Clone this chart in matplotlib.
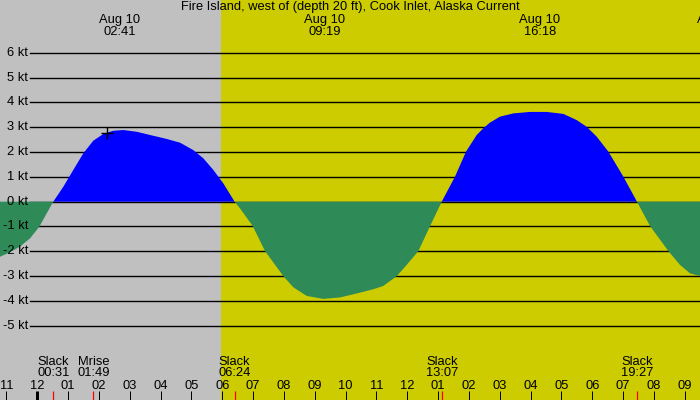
import matplotlib.pyplot as plt
import matplotlib.transforms as mtransforms

plt.rcParams['font.family'] = ['Liberation Sans', 'DejaVu Sans']

title = "Fire Island, west of (depth 20 ft), Cook Inlet, Alaska Current"

# hours after midnight Aug 10, current speed in knots (+ flood, - ebb)
hours = [-1.210, -0.886, -0.561, -0.237, 0.065, 0.305, 0.517,
         0.843, 1.168, 1.492, 1.816, 2.141, 2.465, 2.789, 3.224, 3.656,
         4.197, 4.629, 5.060, 5.384, 5.709, 6.033, 6.400,
         6.574, 6.986, 7.385, 7.979, 8.303, 8.738, 9.277, 9.819, 10.36,
         10.90, 11.22, 11.66, 11.98, 12.36, 12.74, 13.117,
         13.548, 13.905, 14.252, 14.466, 14.683, 15.008, 15.439, 15.981,
         16.523, 17.061, 17.496, 17.82, 18.145, 18.521, 19.008, 19.450,
         19.873, 20.467, 20.846, 21.17, 21.494]
speed = [-2.22, -2.04, -1.81, -1.48, -1.01, -0.47, 0.0,
         0.60, 1.28, 1.95, 2.46, 2.73, 2.86, 2.89, 2.82, 2.69,
         2.53, 2.38, 2.08, 1.75, 1.28, 0.74, 0.0,
         -0.27, -0.98, -1.99, -3.00, -3.45, -3.80, -3.92, -3.86, -3.70,
         -3.53, -3.40, -3.00, -2.55, -1.99, -0.98, 0.0,
         1.01, 2.02, 2.69, 2.96, 3.19, 3.43, 3.56, 3.62,
         3.62, 3.54, 3.29, 3.02, 2.62, 2.02, 1.01, 0.0,
         -0.98, -1.99, -2.55, -2.89, -3.00]

# slack / moon events shown under the chart
event_hours = [0.517, 1.817, 6.400, 13.117, 19.450]
event_names = ["Slack", "Mrise", "Slack", "Slack", "Slack"]
event_times = ["00:31", "01:49", "06:24", "13:07", "19:27"]

# max current times along the top
peak_hours = [2.683, 9.317, 16.300, 22.067]
peak_times = ["02:41", "09:19", "16:18", "22:04"]

sunrise = 5.958
marker_hour, marker_speed = 2.271, 2.78

kt_levels = [-5, -4, -3, -2, -1, 0, 1, 2, 3, 4, 5, 6]
hour_ticks = list(range(-1, 22))

t0, t1 = -1.210, 21.494
fs = 9.3

fig = plt.figure(figsize=(7, 4), dpi=100)
ax = fig.add_axes([0, 0, 1, 1])
ax.set_xlim(t0, t1)
ax.set_ylim(-7.996, 8.133)
ax.axis('off')

ax.axvspan(t0, sunrise, color='#c0c0c0', zorder=0, lw=0)
ax.axvspan(sunrise, t1, color='#cccc00', zorder=0, lw=0)

ytf = mtransforms.blended_transform_factory(ax.transAxes, ax.transData)
for v in kt_levels:
    ax.axhline(v, xmin=30 / 700, xmax=1, color='black', lw=1.0, zorder=1)
    ax.text(28 / 700, v, f"{v} kt", transform=ytf, ha='right', va='center',
            fontsize=fs, zorder=3)

ax.fill_between(hours, speed, 0, where=[s >= 0 for s in speed],
                color='#0000ff', lw=0, zorder=2, interpolate=True)
ax.fill_between(hours, speed, 0, where=[s <= 0 for s in speed],
                color='#2e8b57', lw=0, zorder=2, interpolate=True)
ax.plot([marker_hour], [marker_speed], marker='+', color='black',
        ms=8, mew=1, zorder=4)

xtf = mtransforms.blended_transform_factory(ax.transData, ax.transAxes)

# hour ticks along the bottom
for h in hour_ticks:
    lab = (h % 12) or 12
    width = 3 if h % 24 == 0 else 1
    ax.plot([h, h], [0, 9 / 400], transform=xtf, color='black',
            lw=width * 0.72, solid_capstyle='butt', zorder=4)
    ax.text(h, 1 - 385.7 / 400, f"{lab:02d}", transform=xtf, ha='center',
            va='center', fontsize=fs, zorder=4)

for h, name, tm in zip(event_hours, event_names, event_times):
    ax.plot([h, h], [0, 9 / 400], transform=xtf, color='red', lw=0.9,
            solid_capstyle='butt', zorder=5)
    ax.text(h, 1 - 361.7 / 400, name, transform=xtf, ha='center',
            va='center', fontsize=fs, zorder=4)
    ax.text(h, 1 - 373.3 / 400, tm, transform=xtf, ha='center',
            va='center', fontsize=fs, zorder=4)

for h, tm in zip(peak_hours, peak_times):
    ax.text(h, 1 - 20 / 400, "Aug 10", transform=xtf, ha='center',
            va='center', fontsize=fs, zorder=4)
    ax.text(h, 1 - 31.7 / 400, tm, transform=xtf, ha='center',
            va='center', fontsize=fs, zorder=4)

ax.text(0.5, 1 - 7.3 / 400, title, transform=ax.transAxes, ha='center',
        va='center', fontsize=fs, zorder=4)

plt.savefig("out.png", dpi=100)
